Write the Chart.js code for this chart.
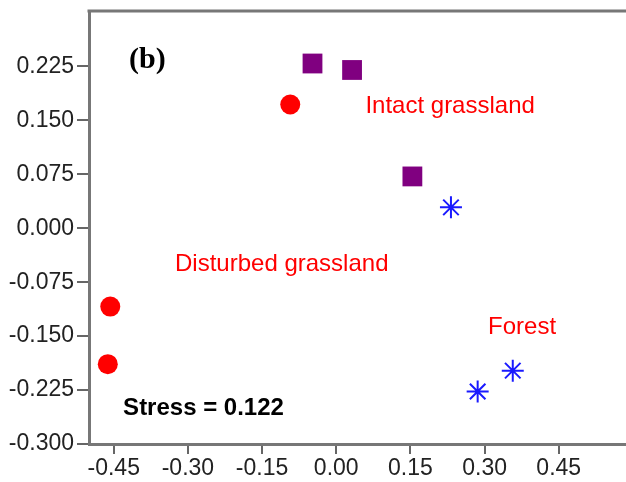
<!DOCTYPE html>
<html>
<head>
<meta charset="utf-8">
<script src="https://cdn.jsdelivr.net/npm/chart.js@4"></script>
<style>
  html, body { margin: 0; padding: 0; background: #fff; overflow: hidden; }
  canvas { display: block; }
</style>
</head>
<body>
<canvas id="nmdsChart" width="626" height="482"></canvas>
<script>
// Data titik NMDS per kelompok (sumbu 1, sumbu 2)
const disturbedX = [-0.093, -0.457, -0.462];
const disturbedY = [0.172, -0.109, -0.189];
const intactX = [-0.048, 0.032, 0.154];
const intactY = [0.229, 0.220, 0.072];
const forestX = [0.232, 0.286, 0.357];
const forestY = [0.029, -0.227, -0.198];

const xTicks = [-0.45, -0.30, -0.15, 0.00, 0.15, 0.30, 0.45];
const yTicks = [-0.300, -0.225, -0.150, -0.075, 0.000, 0.075, 0.150, 0.225];

const groupNames = ['Intact grassland', 'Disturbed grassland', 'Forest'];
const panelTag = '(b)';
const stressText = 'Stress = 0.122';

const toPoints = (xs, ys) => xs.map((v, i) => ({ x: v, y: ys[i] }));

// Teks tambahan di dalam area plot (posisi dalam satuan data)
const textPlugin = {
  id: 'textLabels',
  afterDraw(chart) {
    const { ctx, chartArea, scales: { x, y } } = chart;
    ctx.save();
    // garis bingkai atas
    ctx.strokeStyle = '#777';
    ctx.lineWidth = 3;
    ctx.beginPath();
    ctx.moveTo(chartArea.left - 1.5, chartArea.top);
    ctx.lineTo(chartArea.right, chartArea.top);
    ctx.stroke();

    ctx.textBaseline = 'middle';
    ctx.textAlign = 'left';
    ctx.fillStyle = '#ff0000';
    ctx.font = '24px "Liberation Sans", Arial, sans-serif';
    ctx.fillText(groupNames[0], x.getPixelForValue(0.059), y.getPixelForValue(0.169));
    ctx.fillText(groupNames[1], x.getPixelForValue(-0.326), y.getPixelForValue(-0.050));
    ctx.fillText(groupNames[2], x.getPixelForValue(0.307), y.getPixelForValue(-0.138));

    ctx.fillStyle = '#000';
    ctx.font = 'bold 24px "Liberation Sans", Arial, sans-serif';
    ctx.fillText(stressText, x.getPixelForValue(-0.431), y.getPixelForValue(-0.251));

    ctx.font = 'bold 30px "Liberation Serif", "Times New Roman", serif';
    ctx.fillText(panelTag, x.getPixelForValue(-0.419), y.getPixelForValue(0.234));
    ctx.restore();
  }
};

const ctx = document.getElementById('nmdsChart').getContext('2d');
const nmdsChart = new Chart(ctx, {
  type: 'scatter',
  data: {
    datasets: [
      {
        label: groupNames[1],
        data: toPoints(disturbedX, disturbedY),
        pointStyle: 'circle',
        pointRadius: 10,
        pointHoverRadius: 10,
        backgroundColor: '#ff0000',
        borderColor: '#ff0000',
        borderWidth: 0
      },
      {
        label: groupNames[0],
        data: toPoints(intactX, intactY),
        pointStyle: 'rect',
        pointRadius: 14,
        pointHoverRadius: 14,
        backgroundColor: '#800080',
        borderColor: '#800080',
        borderWidth: 0
      },
      {
        label: groupNames[2],
        data: toPoints(forestX, forestY),
        pointStyle: 'star',
        pointRadius: 11,
        pointHoverRadius: 11,
        backgroundColor: '#1a1aff',
        borderColor: '#1a1aff',
        borderWidth: 2
      }
    ]
  },
  options: {
    responsive: false,
    animation: false,
    layout: { autoPadding: false, padding: { top: 11, right: 0, left: 0, bottom: 0 } },
    plugins: {
      legend: { display: false },
      tooltip: { enabled: false }
    },
    scales: {
      x: {
        type: 'linear',
        min: -0.5,
        max: 0.586,
        afterBuildTicks: s => { s.ticks = xTicks.map(v => ({ value: v })); },
        afterFit: s => { s.height = 38; s.paddingLeft = 0; s.paddingRight = 0; },
        grid: { drawOnChartArea: false, drawTicks: true, tickLength: 10, color: '#666', lineWidth: 2 },
        border: { display: true, color: '#777', width: 3 },
        ticks: {
          color: '#222',
          padding: 1,
          maxRotation: 0,
          autoSkip: false,
          font: { family: 'Liberation Sans', size: 23 },
          callback: v => v.toFixed(2)
        }
      },
      y: {
        type: 'linear',
        min: -0.3,
        max: 0.302,
        afterBuildTicks: s => { s.ticks = yTicks.map(v => ({ value: v })); },
        afterFit: s => { s.width = 89; s.paddingTop = 0; s.paddingBottom = 0; },
        grid: { drawOnChartArea: false, drawTicks: true, tickLength: 12, color: '#666', lineWidth: 2 },
        border: { display: true, color: '#777', width: 3 },
        ticks: {
          color: '#222',
          padding: 3,
          autoSkip: false,
          font: { family: 'Liberation Sans', size: 23 },
          callback: v => v.toFixed(3)
        }
      }
    }
  },
  plugins: [textPlugin]
});
</script>
</body>
</html>
